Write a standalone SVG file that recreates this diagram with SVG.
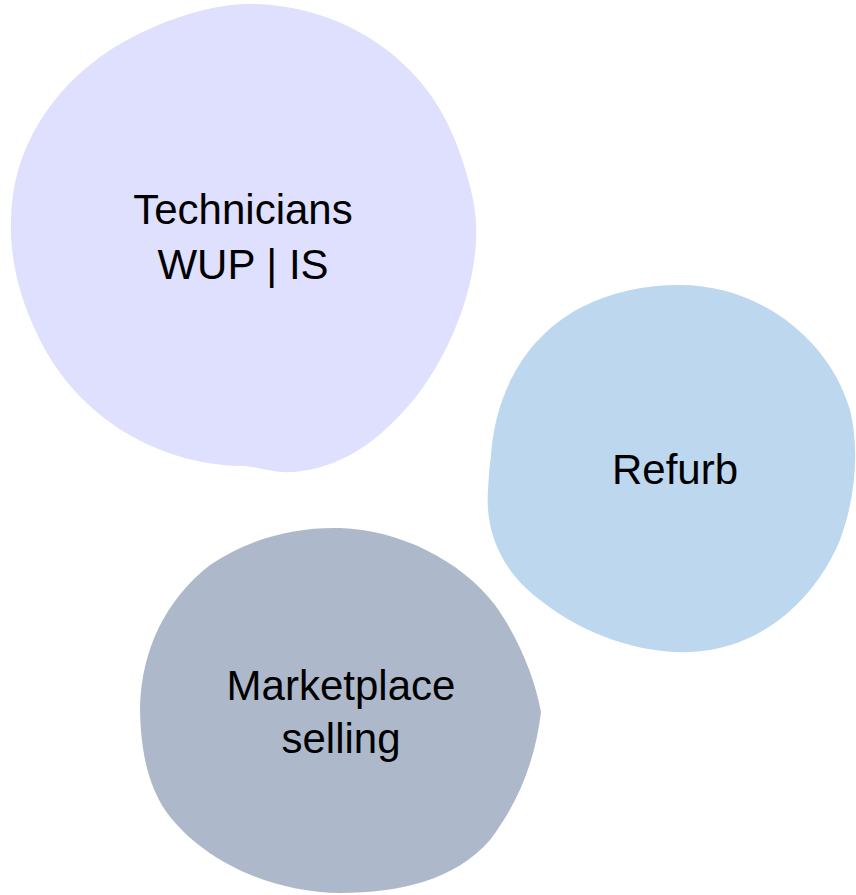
<svg xmlns="http://www.w3.org/2000/svg" width="856" height="895" viewBox="0 0 856 895">
<style>
.lbl{font-family:"Liberation Sans",Arial,sans-serif;font-size:42px;fill:#000;text-anchor:middle}
</style>
<rect width="856" height="895" fill="#fff"/>
<g id="technicians">
<path fill="#DFDFFE" d="M245,4 C330,2 420,50 455,140 C470,180 478,210 476,240 C474,300 440,380 390,425 C360,455 320,474 280,472 C265,470 255,466 240,466 C160,464 80,420 40,340 C15,290 10,250 11,220 C12,150 50,90 110,50 C150,25 200,6 245,4 Z"/>
<text class="lbl" x="243" y="224">Technicians</text>
<text class="lbl" x="243" y="279">WUP | IS</text>
</g>
<g id="refurb">
<path fill="#BDD7EE" d="M680,285 C760,285 830,340 850,410 C860,450 855,500 840,540 C815,600 760,650 690,652 C650,654 590,640 540,600 C500,570 485,530 488,490 C489,470 490,465 491,455 C495,400 520,340 580,308 C610,292 645,285 680,285 Z"/>
<text class="lbl" x="675" y="484">Refurb</text>
</g>
<g id="marketplace">
<path fill="#ADB9CA" d="M340,528 C400,530 460,560 495,605 C520,640 535,680 541,712 C535,760 520,800 490,840 C455,880 400,893 340,893 C270,892 200,860 165,810 C145,780 140,740 140,705 C142,650 165,600 210,565 C250,538 295,527 340,528 Z"/>
<text class="lbl" x="341" y="700">Marketplace</text>
<text class="lbl" x="341" y="753">selling</text>
</g>
<g id="connectors"/>
</svg>
